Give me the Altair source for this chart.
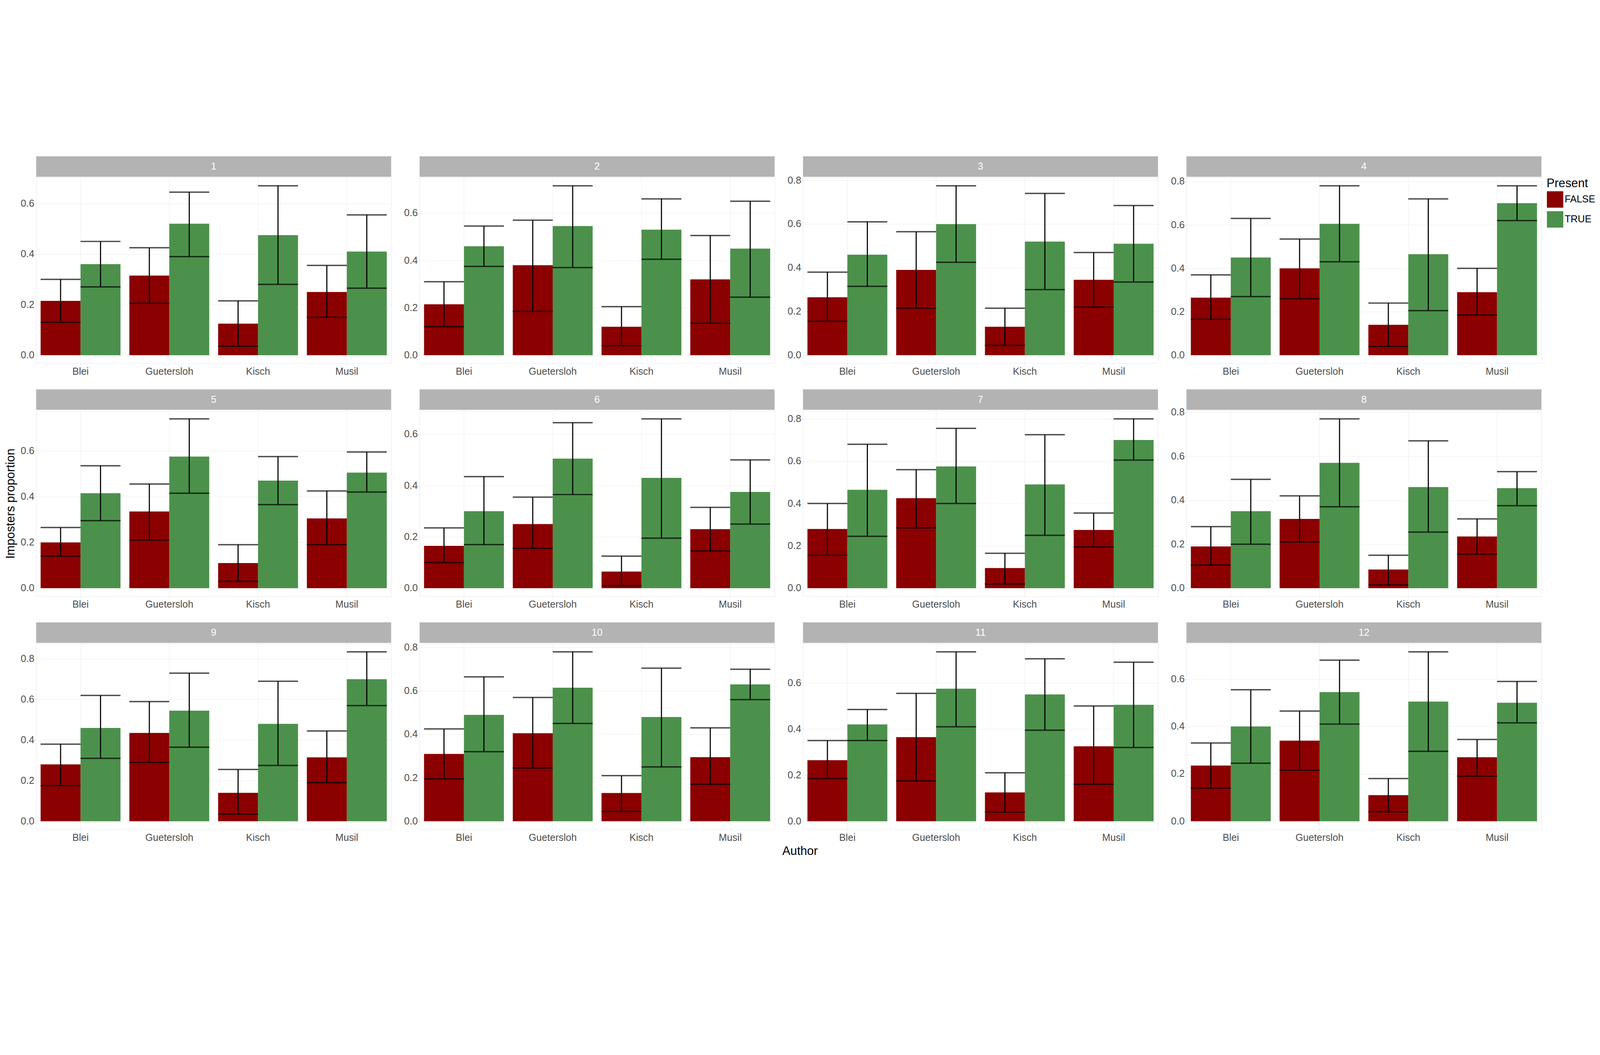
import altair as alt
import pandas as pd

authors = ["Blei", "Guetersloh", "Kisch", "Musil"]
panels = list(range(1, 13))

# per panel, per author: (mean, lo, hi) for Present FALSE and TRUE
false_vals = [
    [(.215, .13, .30), (.315, .205, .425), (.125, .035, .215), (.25, .15, .355)],
    [(.215, .12, .31), (.38, .185, .57), (.12, .04, .205), (.32, .135, .505)],
    [(.265, .155, .38), (.39, .215, .565), (.13, .045, .215), (.345, .22, .47)],
    [(.265, .165, .37), (.40, .26, .535), (.14, .04, .24), (.29, .185, .40)],
    [(.20, .14, .265), (.335, .21, .455), (.11, .03, .19), (.305, .19, .425)],
    [(.165, .10, .235), (.25, .155, .355), (.065, .01, .125), (.23, .145, .315)],
    [(.28, .155, .40), (.425, .285, .56), (.095, .02, .165), (.275, .195, .355)],
    [(.19, .105, .28), (.315, .21, .42), (.085, .015, .15), (.235, .155, .315)],
    [(.28, .175, .38), (.435, .29, .59), (.14, .035, .255), (.315, .19, .445)],
    [(.31, .195, .425), (.405, .245, .57), (.13, .045, .21), (.295, .17, .43)],
    [(.265, .185, .35), (.365, .175, .555), (.125, .04, .21), (.325, .16, .50)],
    [(.235, .14, .33), (.34, .215, .465), (.11, .04, .18), (.27, .19, .345)],
]
true_vals = [
    [(.36, .27, .45), (.52, .39, .645), (.475, .28, .67), (.41, .265, .555)],
    [(.46, .375, .545), (.545, .37, .715), (.53, .405, .66), (.45, .245, .65)],
    [(.46, .315, .61), (.60, .425, .775), (.52, .30, .74), (.51, .335, .685)],
    [(.45, .27, .63), (.605, .43, .78), (.465, .205, .72), (.70, .62, .78)],
    [(.415, .295, .535), (.575, .415, .74), (.47, .365, .575), (.505, .42, .595)],
    [(.30, .17, .435), (.505, .365, .645), (.43, .195, .66), (.375, .25, .50)],
    [(.465, .245, .68), (.575, .40, .755), (.49, .25, .725), (.70, .605, .80)],
    [(.35, .20, .495), (.57, .37, .77), (.46, .255, .67), (.455, .375, .53)],
    [(.46, .31, .62), (.545, .365, .73), (.48, .275, .69), (.70, .57, .835)],
    [(.49, .32, .665), (.615, .45, .78), (.48, .25, .705), (.63, .56, .70)],
    [(.42, .35, .485), (.575, .41, .735), (.55, .395, .705), (.505, .32, .69)],
    [(.40, .245, .555), (.545, .41, .68), (.505, .295, .715), (.50, .415, .59)],
]

W, H = 1300, 680
step = W / 4.0
sub = step * 0.9 / 2


def panel(p, fv, tv, ytitle_visible):
    rows = []
    for a, f, t in zip(authors, fv, tv):
        rows.append(dict(Panel=str(p), Author=a, Present="FALSE", m=f[0], lo=f[1], hi=f[2]))
        rows.append(dict(Panel=str(p), Author=a, Present="TRUE", m=t[0], lo=t[1], hi=t[2]))
    df = pd.DataFrame(rows)
    xenc = alt.X("Author:N", title=None,
                 scale=alt.Scale(paddingInner=0.1, paddingOuter=0.05),
                 axis=alt.Axis(labelAngle=0, labelFontSize=36, labelColor="#4d4d4d",
                               tickColor="#cccccc", domain=False, grid=True,
                               gridColor="#e3e3e3", labelPadding=8))
    xoff = alt.XOffset("Present:N")
    yaxis = alt.Axis(values=[0, 0.2, 0.4, 0.6, 0.8], format=".1f", labelFontSize=36,
                     labelColor="#4d4d4d", titleFontSize=44, titleFontWeight="normal",
                     titleColor="black", titleOpacity=1 if ytitle_visible else 0,
                     tickColor="#cccccc", domain=False, gridColor="#e3e3e3", titlePadding=14)
    base = alt.Chart(df)
    bars = base.mark_bar().encode(
        x=xenc, xOffset=xoff,
        y=alt.Y("m:Q", title="Imposters proportion" if ytitle_visible is not None else None,
                scale=alt.Scale(nice=False, zero=True, padding=30), axis=yaxis),
        color=alt.Color("Present:N", title="Present",
                        scale=alt.Scale(domain=["FALSE", "TRUE"], range=["#8b0000", "#4b914b"]),
                        legend=alt.Legend(titleFontSize=44, titleFontWeight="normal",
                                          labelFontSize=36, symbolType="square",
                                          symbolSize=3600, symbolOpacity=1, rowPadding=12,
                                          labelColor="black", titleColor="black")),
    )
    rules = base.mark_rule(color="black", strokeWidth=4).encode(
        x=xenc, xOffset=xoff, y="lo:Q", y2="hi:Q")
    caps_lo = base.mark_tick(color="black", thickness=5, size=sub).encode(
        x=xenc, xOffset=xoff, y="lo:Q")
    caps_hi = base.mark_tick(color="black", thickness=5, size=sub).encode(
        x=xenc, xOffset=xoff, y="hi:Q")
    one = "datum.Author == 'Blei' && datum.Present == 'FALSE'"
    strip = base.mark_rect(color="#b3b3b3", clip=False).encode(
        x=alt.value(0), x2=alt.value(W), y=alt.value(-78), y2=alt.value(-3)
    ).transform_filter(one)
    strip_text = base.mark_text(color="white", fontSize=36, clip=False, baseline="middle").encode(
        x=alt.value(W / 2), y=alt.value(-40), text="Panel:N"
    ).transform_filter(one)
    return alt.layer(bars, rules, caps_lo, caps_hi, strip, strip_text).properties(width=W, height=H)


grid_rows = []
for r in range(3):
    cells = []
    for c in range(4):
        i = r * 4 + c
        vis = (r == 1) if c == 0 else None
        cells.append(panel(panels[i], false_vals[i], true_vals[i], vis))
    grid_rows.append(alt.hconcat(*cells, spacing=45))

chart = alt.vconcat(*grid_rows, spacing=45).properties(
    title=alt.TitleParams("Author", orient="bottom", anchor="middle", fontSize=44,
                          fontWeight="normal", color="black", offset=10)
).resolve_scale(y="independent").configure_view(
    stroke="#b3b3b3", strokeWidth=3
).configure(font="Liberation Sans")

chart.save("out.html", embed_options={"renderer": "svg", "actions": False})
